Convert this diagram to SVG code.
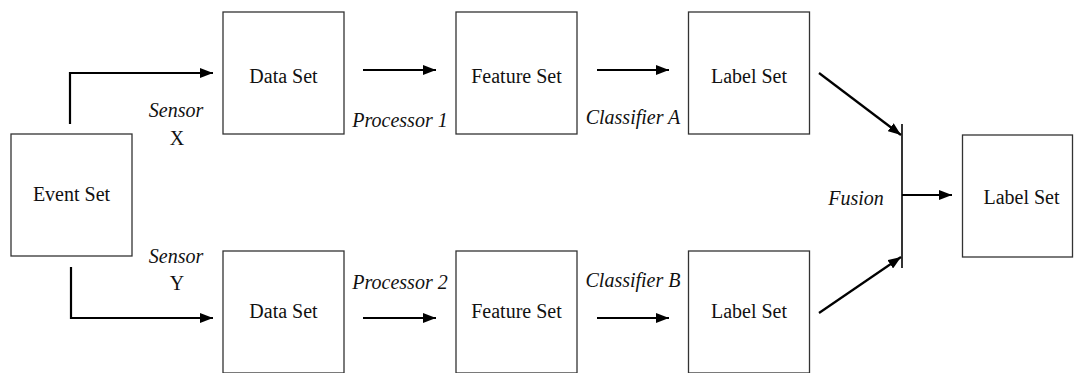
<svg xmlns="http://www.w3.org/2000/svg" width="1075" height="373" viewBox="0 0 1075 373">
<style>
.box{fill:#fff;stroke:#333;stroke-width:1.3}
.t{font-family:"Liberation Serif","Times New Roman",serif;font-size:20px;fill:#111;text-anchor:middle}
.i{font-style:italic}
.c{fill:none;stroke:#000;stroke-width:2.2}
.f{fill:none;stroke:#000;stroke-width:1.6}
</style>
<defs>
<marker id="ah" markerUnits="userSpaceOnUse" markerWidth="13" markerHeight="10" refX="13" refY="5" orient="auto">
<path d="M0,0 L13,5 L0,10 z" fill="#000"/>
</marker>
</defs>
<rect width="1075" height="373" fill="#fff"/>
<g id="event"><rect class="box" x="11" y="134" width="121" height="122"/><text class="t" x="71.5" y="201">Event Set</text></g>
<g id="data1"><rect class="box" x="223" y="12" width="121" height="122"/><text class="t" x="283.5" y="83">Data Set</text></g>
<g id="data2"><rect class="box" x="223" y="251" width="121" height="122"/><text class="t" x="283.5" y="318">Data Set</text></g>
<g id="feat1"><rect class="box" x="456" y="12" width="121" height="122"/><text class="t" x="516.5" y="83">Feature Set</text></g>
<g id="feat2"><rect class="box" x="456" y="251" width="121" height="122"/><text class="t" x="516.5" y="318">Feature Set</text></g>
<g id="label1"><rect class="box" x="688.5" y="12" width="121" height="122"/><text class="t" x="749" y="83">Label Set</text></g>
<g id="label2"><rect class="box" x="688.5" y="251" width="121" height="122"/><text class="t" x="749" y="318">Label Set</text></g>
<g id="labelF"><rect class="box" x="962.5" y="135" width="110" height="122"/><text class="t" x="1021.5" y="204">Label Set</text></g>
<g id="connectors">
<path class="c" d="M70,124 V73 H213" marker-end="url(#ah)"/>
<path class="c" d="M71,267 V318 H213" marker-end="url(#ah)"/>
<line class="c" x1="363" y1="70" x2="436" y2="70" marker-end="url(#ah)"/>
<line class="c" x1="597" y1="70" x2="669" y2="70" marker-end="url(#ah)"/>
<line class="c" x1="363" y1="318" x2="436" y2="318" marker-end="url(#ah)"/>
<line class="c" x1="597" y1="318" x2="669" y2="318" marker-end="url(#ah)"/>
<line class="c" x1="819" y1="73" x2="901" y2="135" marker-end="url(#ah)"/>
<line class="c" x1="819" y1="313" x2="901" y2="257" marker-end="url(#ah)"/>
<line class="f" x1="902" y1="124" x2="902" y2="268"/>
<line class="c" x1="902" y1="195" x2="952" y2="195" marker-end="url(#ah)"/>
</g>
<g id="labels">
<text class="t i" x="176" y="117">Sensor</text>
<text class="t" x="177" y="145">X</text>
<text class="t i" x="176" y="263">Sensor</text>
<text class="t" x="177" y="290">Y</text>
<text class="t i" x="400" y="127">Processor 1</text>
<text class="t i" x="400" y="289">Processor 2</text>
<text class="t i" x="633" y="124">Classifier A</text>
<text class="t i" x="633" y="287">Classifier B</text>
<text class="t i" x="856" y="205">Fusion</text>
</g>
</svg>
